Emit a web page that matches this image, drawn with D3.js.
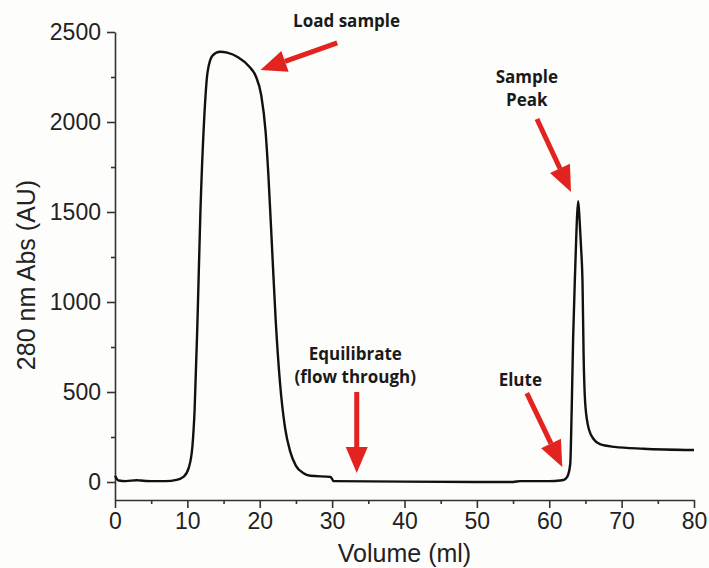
<!DOCTYPE html>
<html>
<head>
<meta charset="utf-8">
<script src="https://cdn.jsdelivr.net/npm/d3@7/dist/d3.min.js"></script>
<style>
  body { margin: 0; background: #fdfdfb; }
  svg { display: block; }
  .tick text { font-family: "Liberation Sans", Arial, sans-serif; }
</style>
</head>
<body>
<svg id="chart" width="709" height="568"></svg>
<script>
// chromatogram trace, volume (ml) vs 280 nm absorbance
const volume = [0, 0.5, 1.5, 3, 3.5, 5, 7, 8.5, 9.5, 10.2, 10.7, 11.0, 11.4, 11.8, 12.3, 12.8, 13.5, 14.5, 15.5, 17, 18.5, 19.5, 20.2, 20.8, 21.2, 21.7, 22.2, 22.8, 23.5, 24.2, 25, 26, 27, 29.8, 30.2, 40, 55, 56, 60, 61.5, 62.0, 62.5, 62.9, 63.1, 63.3, 63.6, 63.85, 64.0, 64.2, 64.4, 64.6, 64.75, 65.0, 65.5, 66.2, 67, 69, 73, 80];
const absorbance = [35, 8, 5, 10, 8, 5, 5, 12, 30, 80, 200, 400, 900, 1500, 2000, 2280, 2370, 2390, 2385, 2360, 2310, 2250, 2150, 1950, 1700, 1300, 900, 550, 300, 170, 90, 50, 35, 28, 5, 2, 0, 5, 5, 8, 12, 30, 100, 400, 800, 1200, 1480, 1560, 1450, 1300, 1100, 700, 420, 290, 235, 210, 195, 185, 178];

const yTicks = [0, 500, 1000, 1500, 2000, 2500];
const yMinor = [250, 750, 1250, 1750, 2250];
const xTicks = [0, 10, 20, 30, 40, 50, 60, 70, 80];
const xMinor = [5, 15, 25, 35, 45, 55, 65, 75];

// annotations: label lines, label anchor, arrow tail and tip (data units)
const noteLabels = [["Load sample"], ["Equilibrate", "(flow through)"], ["Elute"], ["Sample", "Peak"]];
const noteText = [[32.0, 2556], [33.2, 706], [56.0, 561], [56.9, 2244]];
const arrowTail = [[30.7, 2440], [33.4, 500], [56.9, 494], [58.3, 2017]];
const arrowTip = [[20.1, 2289], [33.4, 50], [61.8, 83], [63.0, 1611]];

const svg = d3.select("#chart");

const x = d3.scaleLinear().domain([0, 80]).range([115, 694]);
const y = d3.scaleLinear().domain([-100, 2500]).range([500, 32]);

const xAxis = svg.append("g")
  .attr("transform", `translate(0,${y(-100)})`)
  .call(d3.axisBottom(x).tickValues(xTicks).tickSize(8).tickSizeOuter(0).tickPadding(5));
svg.append("g")
  .attr("transform", `translate(0,${y(-100)})`)
  .call(d3.axisBottom(x).tickValues(xMinor).tickSize(4).tickFormat(""))
  .select(".domain").remove();

const yAxis = svg.append("g")
  .attr("transform", `translate(${x(0)},0)`)
  .call(d3.axisLeft(y).tickValues(yTicks).tickFormat(d3.format("d")).tickSize(8).tickSizeOuter(0).tickPadding(6));
svg.append("g")
  .attr("transform", `translate(${x(0)},0)`)
  .call(d3.axisLeft(y).tickValues(yMinor).tickSize(4).tickFormat(""))
  .select(".domain").remove();

svg.selectAll(".domain, .tick line").attr("stroke", "#333").attr("stroke-width", 1.6);
xAxis.selectAll(".tick text").attr("font-size", 23).attr("fill", "#222");
yAxis.selectAll(".tick text").attr("font-size", 23).attr("fill", "#222");

svg.append("text")
  .attr("x", (x(0) + x(80)) / 2)
  .attr("y", 562)
  .attr("text-anchor", "middle")
  .attr("font-family", "Liberation Sans, Arial, sans-serif")
  .attr("font-size", 25)
  .attr("fill", "#222")
  .text("Volume (ml)");

svg.append("text")
  .attr("transform", `translate(35,${y(1150)}) rotate(-90)`)
  .attr("text-anchor", "middle")
  .attr("font-family", "Liberation Sans, Arial, sans-serif")
  .attr("font-size", 25)
  .attr("fill", "#222")
  .text("280 nm Abs (AU)");

const trace = volume.map((v, i) => [v, absorbance[i]]);
svg.append("path")
  .datum(trace)
  .attr("fill", "none")
  .attr("stroke", "#111")
  .attr("stroke-width", 2.4)
  .attr("stroke-linejoin", "round")
  .attr("d", d3.line().x(d => x(d[0])).y(d => y(d[1])).curve(d3.curveMonotoneX));

// red arrows
const red = "#e3231f";
arrowTail.forEach((t, i) => {
  const x1 = x(t[0]), y1 = y(t[1]);
  const x2 = x(arrowTip[i][0]), y2 = y(arrowTip[i][1]);
  const ang = Math.atan2(y2 - y1, x2 - x1);
  const headLen = 26, headW = 11;
  const bx = x2 - headLen * Math.cos(ang), by = y2 - headLen * Math.sin(ang);
  svg.append("line")
    .attr("x1", x1).attr("y1", y1).attr("x2", bx).attr("y2", by)
    .attr("stroke", red).attr("stroke-width", 5);
  const px = -Math.sin(ang) * headW, py = Math.cos(ang) * headW;
  svg.append("polygon")
    .attr("points", [[x2, y2], [bx + px, by + py], [bx - px, by - py]].map(p => p.join(",")).join(" "))
    .attr("fill", red);
});

noteLabels.forEach((lines, i) => {
  const t = svg.append("text")
    .attr("x", x(noteText[i][0]))
    .attr("y", y(noteText[i][1]))
    .attr("text-anchor", "middle")
    .attr("dominant-baseline", "middle")
    .attr("font-family", "Open Sans, sans-serif")
    .attr("font-weight", "bold")
    .attr("font-size", 17)
    .attr("fill", "#1a1a1a");
  lines.forEach((s, j) => {
    t.append("tspan").attr("x", x(noteText[i][0])).attr("dy", j === 0 ? 0 : 23).text(s);
  });
});
</script>
</body>
</html>
